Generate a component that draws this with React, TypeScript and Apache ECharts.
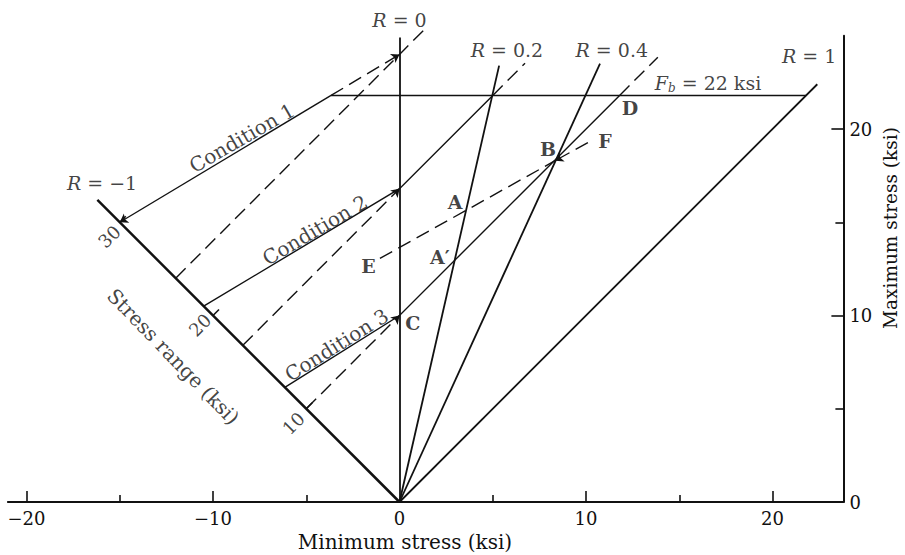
import React, { useEffect, useRef } from 'react';
import * as echarts from 'echarts';

// ---------- axes ----------
const X_MIN = -21;
const X_MAX = 23.8;
const Y_MIN = 0;
const Y_MAX = 25;
const xMajorTicks = [-20, -10, 10, 20];
const xMinorTicks = [-15, -5, 5, 15];
const xTickLabels = [-20, -10, 0, 10, 20];
const yMajorTicks = [10, 20];
const yMinorTicks = [5, 15];
const yTickLabels = [0, 10, 20];

// ---------- stress-ratio rays from the origin (min stress, max stress at the far end) ----------
const rayLabels = ['R = 0', 'R = 0.2', 'R = 0.4', 'R = 1'];
const rayEndMin = [0, 5.34, 10.75, 22.4];
const rayEndMax = [24.9, 23.4, 23.5, 22.4];
const reversalEnd = [-16.2, 16.2]; // R = -1

// ---------- stress range scale along R = -1 ----------
const rangeTicks = [10, 20, 30];

// ---------- allowable bending stress ----------
const fbValue = 21.8;
const fbFrom = -3.67;
const fbTo = 21.8;

// ---------- condition lines (min, max) ----------
const cond1Solid = [[-15, 15], [-3.67, 21.8]];
const cond1Dashed = [[-3.67, 21.8], [0, 24]];
const cond2Solid = [[-10.5, 10.5], [0, 16.8], [5, 21.8]];
const cond3Solid = [[-6.15, 6.15], [0, 10], [11.8, 21.8]];

// constant stress-range (dashed) lines
const range24 = [[-12, 12], [0, 24], [1.45, 25.45]];
const range17 = [[-8.4, 8.4], [0, 16.8]];
const range17Ext = [[5, 21.8], [6.73, 23.53]];
const range10 = [[-5, 5], [0, 10]];
const range10Ext = [[11.8, 21.8], [13.85, 23.85]];
const lineEB = [[-1.05, 13.06], [8.34, 18.3]];
const lineFB = [[10.1, 19.27], [8.34, 18.3]];

// ---------- annotation texts ----------
const pointLetters = ['A', 'A\u2032', 'B', 'C', 'D', 'E', 'F'];
const pointLetterPos = [[2.98, 16.1], [2.17, 13.15], [7.96, 18.91], [0.71, 9.58], [12.36, 21.11], [-1.67, 12.65], [11.02, 19.36]];
const rayLabelPos = [[0, 25.85], [5.76, 24.24], [11.38, 24.24], [21.96, 23.91]];
const reversalLabelPos = [-15.95, 17.1];
const conditionLabels = ['Condition 1', 'Condition 2', 'Condition 3'];
const conditionLabelPos = [[-8.45, 19.52], [-4.53, 14.58], [-3.37, 8.42]];
const conditionLabelAngle = [30, 30.5, 32];
const rangeLabelPos = [[-15.56, 14.23], [-10.7, 9.49], [-5.69, 4.22]];

const INK = '#111111';
const FONT = '"DejaVu Serif", "Liberation Serif", serif';

const fmtMinus = (v: number) => (v < 0 ? '\u2212' + Math.abs(v) : String(v));

function seg(coords: number[][], width: number, dashed: boolean, arrow?: 'start' | 'end') {
  return {
    type: 'lines',
    coordinateSystem: 'cartesian2d',
    polyline: coords.length > 2,
    silent: true,
    clip: false,
    z: 3,
    symbol: arrow === 'start' ? ['arrow', 'none'] : arrow === 'end' ? ['none', 'arrow'] : ['none', 'none'],
    symbolSize: 8,
    itemStyle: { color: INK },
    lineStyle: { color: INK, width, opacity: 1, curveness: 0, type: dashed ? [14, 7] : 'solid' },
    data: [{ coords }],
  };
}

function buildOption() {
  const series: any[] = [];
  rayEndMin.forEach((m, i) => series.push(seg([[0, 0], [m, rayEndMax[i]]], 1.8, false)));
  series.push(seg([[0, 0], reversalEnd], 2.5, false));
  rangeTicks.forEach((s) => series.push(seg([[-s / 2, s / 2], [-s / 2 + 0.32, s / 2 + 0.32]], 1.6, false)));
  series.push(seg([[fbFrom, fbValue], [fbTo, fbValue]], 1.4, false));
  series.push(seg(cond1Solid, 1.4, false, 'start'));
  series.push(seg(cond1Dashed, 1.4, true, 'end'));
  series.push(seg(cond2Solid, 1.4, false));
  series.push(seg(cond3Solid, 1.4, false));
  series.push(seg(range24, 1.4, true));
  series.push(seg(range17, 1.4, true, 'end'));
  series.push(seg(range17Ext, 1.4, true));
  series.push(seg(range10, 1.4, true, 'end'));
  series.push(seg(range10Ext, 1.4, true));
  series.push(seg(lineEB, 1.4, true));
  series.push(seg(lineFB, 1.4, true, 'end'));

  const labelData: any[] = [];
  const rich = {
    i: { fontStyle: 'italic', fontSize: 19, fontFamily: FONT, color: INK },
    n: { fontSize: 19, fontFamily: FONT, color: INK },
    s: { fontStyle: 'italic', fontSize: 12, fontFamily: FONT, color: INK, verticalAlign: 'bottom', padding: [10, 0, 0, 0] },
  };
  rayLabels.forEach((t, i) => {
    const rest = t.replace('R', '');
    labelData.push({ value: rayLabelPos[i], label: { formatter: '{i|R}{n|' + rest + '}', rich } });
  });
  labelData.push({ value: reversalLabelPos, label: { formatter: '{i|R}{n| = \u22121}', rich } });
  labelData.push({ value: [16.54, 22.47], label: { formatter: '{i|F}{s|b}{n| = ' + 22 + ' ksi}', rich } });
  conditionLabels.forEach((t, i) => {
    labelData.push({ value: conditionLabelPos[i], label: { formatter: t, rotate: conditionLabelAngle[i], fontSize: 20 } });
  });
  rangeTicks.forEach((s, i) => {
    labelData.push({ value: rangeLabelPos[2 - i], label: { formatter: String(s), rotate: 45, fontSize: 18 } });
  });
  labelData.push({ value: [-12.13, 7.79], label: { formatter: 'Stress range (ksi)', rotate: -46, fontSize: 20 } });
  pointLetters.forEach((t, i) => {
    labelData.push({ value: pointLetterPos[i], label: { formatter: t, fontWeight: 'bold', fontSize: 19 } });
  });

  series.push({
    type: 'scatter',
    silent: true,
    clip: false,
    z: 10,
    symbolSize: 1,
    itemStyle: { color: 'rgba(0,0,0,0)' },
    label: { show: true, position: 'inside', color: INK, fontFamily: FONT, fontSize: 19 },
    data: labelData,
  });

  const tickStyle = { color: INK, width: 1.6 };
  const xBase = { type: 'value', min: X_MIN, max: X_MAX, position: 'bottom', splitLine: { show: false } };
  const yBase = { type: 'value', min: Y_MIN, max: Y_MAX, position: 'right', splitLine: { show: false } };

  return {
    animation: false,
    backgroundColor: '#ffffff',
    textStyle: { fontFamily: FONT, color: INK },
    grid: { left: 7.85, right: 61.6, top: 35.75, bottom: 53, outerBoundsMode: 'none' },
    xAxis: [
      {
        ...xBase,
        axisLine: { show: true, onZero: false, lineStyle: { color: INK, width: 2 } },
        axisTick: { show: true, inside: true, length: 11, customValues: xMajorTicks, lineStyle: tickStyle },
        axisLabel: { show: true, customValues: xTickLabels, formatter: fmtMinus, margin: 7, color: INK, fontSize: 18, fontFamily: FONT },
      },
      {
        ...xBase,
        axisLine: { show: false, onZero: false },
        axisTick: { show: true, inside: true, length: 7, customValues: xMinorTicks, lineStyle: tickStyle },
        axisLabel: { show: false },
      },
    ],
    yAxis: [
      {
        ...yBase,
        axisLine: { show: true, onZero: false, lineStyle: { color: INK, width: 2 } },
        axisTick: { show: true, inside: true, length: 12, customValues: yMajorTicks, lineStyle: tickStyle },
        axisLabel: { show: true, customValues: yTickLabels, margin: 6, color: INK, fontSize: 18, fontFamily: FONT },
      },
      {
        ...yBase,
        axisLine: { show: false, onZero: false },
        axisTick: { show: true, inside: true, length: 8, customValues: yMinorTicks, lineStyle: tickStyle },
        axisLabel: { show: false },
      },
    ],
    graphic: [
      {
        type: 'text',
        x: 405,
        y: 542,
        style: { text: 'Minimum stress (ksi)', fontSize: 20, fontFamily: FONT, fill: INK, align: 'center', verticalAlign: 'middle' },
      },
      {
        type: 'text',
        x: 890,
        y: 228,
        rotation: Math.PI / 2,
        style: { text: 'Maximum stress (ksi)', fontSize: 18.5, fontFamily: FONT, fill: INK, align: 'center', verticalAlign: 'middle' },
      },
    ],
    series,
  };
}

export default function App() {
  const ref = useRef<HTMLDivElement>(null);
  useEffect(() => {
    if (!ref.current) return;
    const chart = echarts.init(ref.current, null, { renderer: 'svg' });
    chart.setOption(buildOption() as any);
    return () => chart.dispose();
  }, []);
  return (
    <div
      ref={ref}
      style={{ position: 'fixed', left: 0, top: 0, width: 905, height: 555, background: '#ffffff' }}
    />
  );
}
